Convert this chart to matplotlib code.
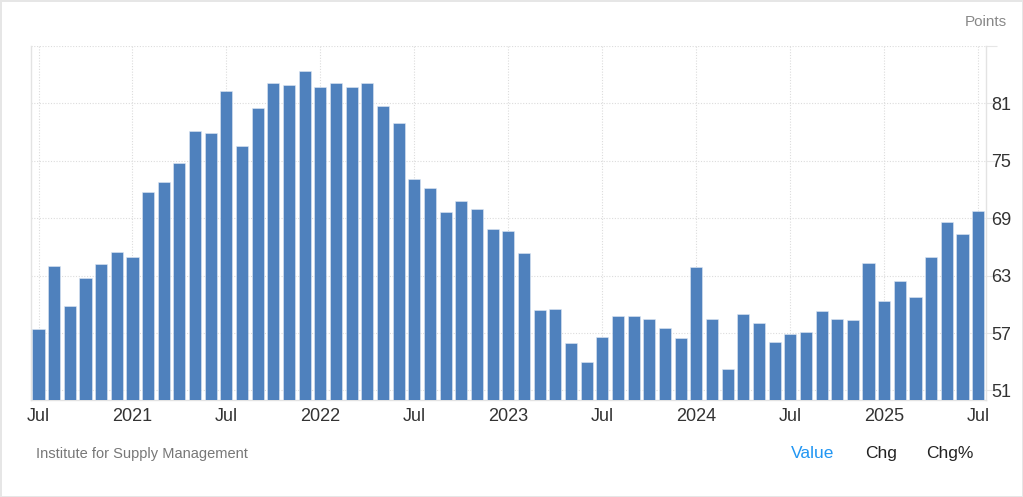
import matplotlib.pyplot as plt
import numpy as np

# ISM services prices, Jul 2020 .. Jul 2025
values = [57.4, 64.0, 59.8, 62.7, 64.2, 65.5, 64.9, 71.7, 72.8, 74.8, 78.1, 77.9,
          82.3, 76.6, 80.5, 83.1, 82.9, 84.4, 82.7, 83.1, 82.7, 83.1, 80.7, 79.0,
          73.1, 72.2, 69.7, 70.8, 70.0, 67.9, 67.7, 65.4, 59.4, 59.5, 56.0, 54.0,
          56.6, 58.8, 58.8, 58.5, 57.5, 56.5, 63.9, 58.5, 53.2, 59.0, 58.0, 56.1,
          56.9, 57.1, 59.3, 58.5, 58.4, 64.3, 60.3, 62.4, 60.8, 64.9, 68.6, 67.4,
          69.8]
x_tick_labels = ["Jul", "2021", "Jul", "2022", "Jul", "2023", "Jul",
                 "2024", "Jul", "2025", "Jul"]
y_ticks = [51, 57, 63, 69, 75, 81, 87]

plt.rcParams['font.family'] = ['Liberation Sans', 'DejaVu Sans']

fig = plt.figure(figsize=(10.23, 4.97), dpi=100)
fig.patch.set_edgecolor('#e6e6e6')
fig.patch.set_linewidth(2)
ax = fig.add_axes([0.030, 0.1952, 0.9338, 0.7122])

x = np.arange(len(values))
ax.bar(x, values, width=0.77, color='#4f81bd', edgecolor='#dfe8f3',
       linewidth=0.4, zorder=3)

ax.set_xlim(-0.5, len(values) - 0.5)
ax.set_ylim(50, 87)

ax.set_xticks(np.arange(0, len(values), 6))
ax.set_xticklabels(x_tick_labels, fontsize=13, color='#333333')
ax.tick_params(axis='x', length=0, pad=6)

ax.yaxis.tick_right()
ax.set_yticks(y_ticks)
ax.set_yticklabels([str(v) for v in y_ticks[:-1]] + [""], fontsize=13,
                   color='#333333')
ax.tick_params(axis='y', length=8, color='#e6e6e6', pad=-4)

ax.grid(True, color='#dcdcdc', linestyle=(0, (1, 1.5)), linewidth=0.8, zorder=0)
ax.spines['top'].set_visible(False)
for side in ['left', 'right', 'bottom']:
    ax.spines[side].set_color('#e3e3e3')
    ax.spines[side].set_linewidth(1)

fig.text(0.984, 0.955, "Points", fontsize=11, color='#888888', ha='right', va='center')
fig.text(0.035, 0.087, "Institute for Supply Management", fontsize=10.5,
         color='#777777', ha='left', va='center')
fig.text(0.773, 0.087, "Value", fontsize=12.5, color='#2196f3', ha='left', va='center')
fig.text(0.846, 0.087, "Chg", fontsize=12.5, color='#222222', ha='left', va='center')
fig.text(0.905, 0.087, "Chg%", fontsize=12.5, color='#222222', ha='left', va='center')

plt.savefig('out.png', dpi=100, edgecolor=fig.get_edgecolor())
